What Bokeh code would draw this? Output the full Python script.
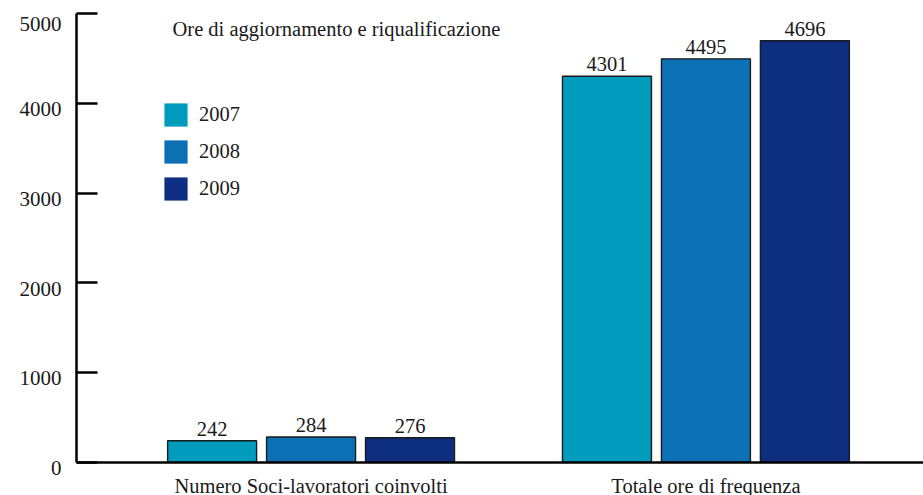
from bokeh.plotting import figure
from bokeh.models import (ColumnDataSource, Range1d, FixedTicker, Legend, LegendItem,
                          Label, LabelSet)
from bokeh.transform import dodge
from bokeh.embed import file_html
from bokeh.resources import INLINE

# ---- data ----
categories = ["Numero Soci-lavoratori coinvolti", "Totale ore di frequenza"]
years = ["2007", "2008", "2009"]
v2007 = [242, 4301]
v2008 = [284, 4495]
v2009 = [276, 4696]
y_ticks = [0, 1000, 2000, 3000, 4000, 5000]
y_tick_labels = ["0", "1000", "2000", "3000", "4000", "5000"]
title_text = "Ore di aggiornamento e riqualificazione"

colors = ["#019bbe", "#0b71b4", "#0e2f80"]
series = [v2007, v2008, v2009]
offsets = [-0.2506, 0.0, 0.2506]
FONT = "Liberation Serif"
TXT = "#1a1a1a"
FS = "20.5px"

xpos = list(range(len(categories)))

p = figure(frame_width=847, frame_height=449, output_backend="svg", toolbar_location=None,
           x_range=Range1d(-0.594, 1.551), y_range=Range1d(0, 5000),
           min_border_left=76, min_border_right=0, min_border_top=13, min_border_bottom=0)
p.outline_line_color = None
p.xgrid.grid_line_color = None
p.ygrid.grid_line_color = None
p.background_fill_color = "white"

legend_items = []
for yr, vals, col, off in zip(years, series, colors, offsets):
    src = ColumnDataSource(dict(x=xpos, top=vals, lab=[str(v) for v in vals]))
    p.vbar(x=dodge("x", off, range=p.x_range), top="top", width=0.2253, source=src,
           fill_color=col, line_color="#1a1a1a", line_width=1.4)
    ls = LabelSet(x=dodge("x", off, range=p.x_range), y="top", text="lab", source=src,
                  text_align="center", text_baseline="bottom", y_offset=5,
                  text_font=FONT, text_font_size=FS, text_color=TXT)
    p.add_layout(ls)
    # legend-only renderer (no outline, draws nothing in the plot)
    r = p.vbar(x=[float("nan")], top=[float("nan")], width=0.2, fill_color=col, line_color=None)
    legend_items.append(LegendItem(label=yr, renderers=[r]))

legend = Legend(items=legend_items, location=(85, 259), orientation="vertical",
                glyph_width=29, glyph_height=29, spacing=8, padding=0, margin=0,
                label_standoff=9, border_line_color=None, background_fill_alpha=0,
                label_text_font=FONT, label_text_font_size=FS, label_text_color=TXT)
p.add_layout(legend)

p.add_layout(Label(x=96, y=445, x_units="screen", y_units="screen", text=title_text,
                   text_baseline="top", text_font=FONT, text_font_size=FS, text_color=TXT))

# axes
ya = p.yaxis[0]
ya.ticker = FixedTicker(ticks=y_ticks)
# a leading blank line sets each label a little below its tick, as in the reference
ya.major_label_overrides = {t: "\n" + lab for t, lab in zip(y_ticks, y_tick_labels)}
ya.major_label_text_line_height = 0.47
ya.axis_line_width = 2.5
ya.axis_line_color = "black"
ya.major_tick_in = 21
ya.major_tick_out = 0
ya.major_tick_line_width = 2.5
ya.major_tick_line_color = "black"
ya.minor_tick_line_color = None
ya.major_label_standoff = 15
ya.major_label_text_font = FONT
ya.major_label_text_font_size = "21px"
ya.major_label_text_color = TXT

xa = p.xaxis[0]
xa.ticker = FixedTicker(ticks=xpos)
xa.major_label_overrides = {i: c for i, c in zip(xpos, categories)}
xa.axis_line_width = 2.5
xa.axis_line_color = "black"
xa.major_tick_in = 0
xa.major_tick_out = 0
xa.minor_tick_line_color = None
xa.major_label_standoff = 12
xa.major_label_text_font = FONT
xa.major_label_text_font_size = FS
xa.major_label_text_color = TXT

open("out.html", "w").write(file_html(p, INLINE))
